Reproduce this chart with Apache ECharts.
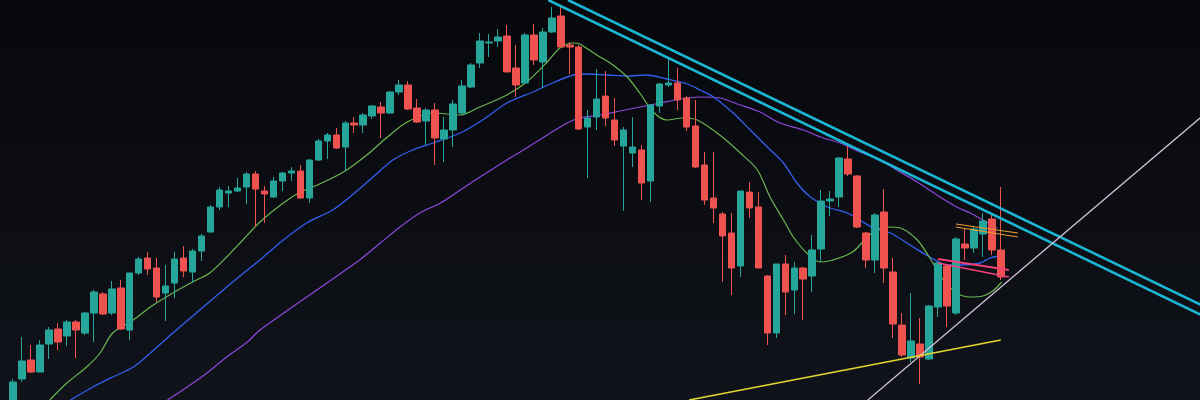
<!DOCTYPE html>
<html>
<head>
<meta charset="utf-8">
<script src="https://cdn.jsdelivr.net/npm/echarts@6/dist/echarts.min.js"></script>
<style>
html,body{margin:0;padding:0;background:#0b0d12;overflow:hidden;}
#c{width:1212px;height:400px;}
</style>
</head>
<body>
<div id="c"></div>
<script>
// ---- candle data (price units), one entry per session ----
const opens  = [-5,21,40,28,56,71,64,78,67,87,106,87,112,70,127,142,132,107,117,142,128,149,168,193,207,209,213,226,209,203,219,227,229,202,240,259,265,253,277,275,284,293,287,308,315,292,279,290,261,270,287,313,337,357,359,364,332,317,365,338,368,384,355,353,273,283,304,280,254,247,250,219,294,315,317,302,274,235,202,186,167,134,208,193,124,67,136,110,132,124,151,199,203,241,224,167,140,188,128,75,42,56,41,93,134,87,156,152,166,181,150];
const closes = [18,39,28,55,70,58,78,70,87,108,86,111,71,127,141,131,103,114,141,129,149,164,193,210,209,212,226,211,206,219,227,229,202,240,259,265,252,277,275,285,294,287,308,315,291,278,290,262,270,296,314,335,359,358,363,328,315,365,340,368,382,353,353,271,282,301,282,260,270,253,217,295,316,317,300,273,233,200,192,164,132,209,192,132,67,136,108,132,121,150,199,201,242,226,173,140,185,132,76,45,59,43,94,137,94,161,152,171,179,150,123];
const lows   = [-10,18,27,28,41,50,54,42,65,58,85,85,70,60,125,125,98,79,102,123,117,139,167,190,193,208,196,173,177,202,209,219,201,197,239,241,251,229,267,267,281,262,286,305,290,277,255,235,238,253,285,312,332,343,353,328,303,316,335,312,367,353,326,270,222,270,274,254,189,233,200,198,287,313,290,269,232,195,177,118,105,123,182,132,55,62,85,86,80,108,138,184,193,224,172,132,127,117,62,43,38,16,40,83,73,85,140,147,143,145,120];
const highs  = [21,63,55,60,73,77,80,80,88,110,108,119,120,127,143,148,142,135,148,154,151,166,195,213,214,222,228,229,214,223,228,233,235,241,261,267,272,279,283,287,295,298,309,320,319,301,292,297,283,300,320,337,367,366,371,375,355,367,376,372,393,393,358,355,290,331,329,302,273,283,255,296,317,342,332,304,300,248,248,188,187,209,218,208,125,136,145,138,133,165,210,209,243,255,225,168,187,211,142,87,107,82,95,138,136,163,172,173,187,185,213];

// ---- moving averages: [session index, price] ----
const maFast = [[4.1,0],[6.0,17],[8.2,33],[9.7,47],[11.1,67],[13.4,80],[15.3,93],[17.8,107],[20.0,118],[21.9,127],[23.8,143],[25.6,160],[27.5,178],[30.1,197],[32.0,208],[33.9,215],[36.8,228],[39.4,245],[41.7,263],[43.9,278],[46.8,287],[49.8,285],[52.0,293],[55.0,305],[57.2,318],[59.5,338],[60.9,352],[62.4,357],[63.1,356],[65.0,345],[66.5,337],[68.4,323],[69.8,307],[71.3,288],[72.8,280],[74.6,282],[76.2,280],[78.7,265],[81.0,247],[82.9,230],[84.3,203],[85.8,180],[86.9,163],[88.4,147],[89.9,138],[91.3,140],[93.5,148],[95.4,165],[97.3,173],[98.8,172],[100.7,160],[102.1,142],[103.6,120],[105.1,107],[106.6,103],[108.0,104],[109.1,109],[110.1,118]];
const maMid = [[6.4,0],[8.9,13],[11.1,23],[13.4,33],[15.3,47],[17.8,67],[20.8,90],[23.8,113],[26.1,130],[27.5,140],[30.1,160],[32.7,177],[35.6,190],[37.5,203],[40.1,223],[42.3,240],[44.5,250],[46.8,257],[49.8,267],[52.3,280],[55.0,297],[57.9,308],[60.1,317],[62.4,325],[63.9,326],[66.2,325],[68.4,324],[70.6,325],[72.8,321],[75.1,316],[76.5,310],[78.0,303],[80.2,287],[82.1,270],[84.0,253],[85.8,237],[87.3,217],[88.8,203],[90.7,193],[92.9,187],[94.3,180],[95.8,172],[97.7,167],[99.9,155],[102.1,143],[104.0,135],[105.8,135],[107.7,137],[108.8,142],[109.9,144]];
const maSlow = [[17.2,0],[19.4,13],[21.6,27],[23.8,43],[26.1,58],[27.5,70],[38.6,140],[40.9,157],[43.1,173],[45.3,187],[47.6,197],[49.8,210],[52.0,223],[55.0,240],[57.2,252],[59.5,265],[61.7,277],[63.1,282],[65.4,285],[67.6,289],[69.8,293],[72.1,297],[74.3,301],[76.5,303],[78.7,302],[81.0,295],[83.2,288],[85.4,277],[88.0,270],[89.9,263],[92.1,257],[94.3,248],[96.6,240],[98.4,230],[100.7,218],[102.9,205],[105.1,193],[106.6,187],[108.0,180],[109.6,172]];

// ---- drawn trend lines: [session index, price] endpoints ----
const resistUpper = [[61.8,400],[133.5,90]];
const resistLower = [[59.6,400],[133.5,80]];
const riseLine    = [[95.2,0],[133.5,292]];
const supportLine = [[75.3,0],[110.0,60]];
const orangeA     = [[105.0,176],[111.9,167]];
const orangeB     = [[105.0,173],[111.9,163]];
const pinkA       = [[103.0,141],[110.9,130]];
const pinkB       = [[103.0,137],[110.9,123]];

const slots = 134;
const categories = Array.from({length: slots}, (_, i) => 'D' + (i + 1));
const candles = opens.map((o, i) => [o, closes[i], lows[i], highs[i]]);

const UP = '#26a69a', DOWN = '#ef5350';
function line(data, color, width, extra) {
  return Object.assign({
    type: 'line', xAxisIndex: 1, yAxisIndex: 0, data: data, symbol: 'none',
    lineStyle: {color: color, width: width}, silent: true, animation: false, z: 3
  }, extra || {});
}

const chart = echarts.init(document.getElementById('c'), null, {renderer: 'canvas'});
chart.setOption({
  animation: false,
  backgroundColor: {type: 'linear', x: 0, y: 0, x2: 0, y2: 1,
    colorStops: [{offset: 0, color: '#07080c'}, {offset: 1, color: '#10131a'}]},
  grid: {left: 8.5, top: 0, width: slots * 8.98, height: 400},
  xAxis: [
    {type: 'category', data: categories, boundaryGap: true, show: false},
    {type: 'value', min: -0.5, max: slots - 0.5, show: false}
  ],
  yAxis: {type: 'value', min: 0, max: 400, show: false, splitLine: {show: false}},
  series: [
    line(maSlow, '#8c48dc', 1.2, {smooth: 0.3, z: 2}),
    line(maMid, '#3160ee', 1.3, {smooth: 0.3, z: 2}),
    line(maFast, '#6cb650', 1.2, {smooth: 0.3, z: 2}),
    {
      type: 'candlestick', data: candles, barWidth: 7, z: 4,
      itemStyle: {color: UP, color0: DOWN, borderColor: UP, borderColor0: DOWN, borderWidth: 1}
    },
    line(resistUpper, '#1bb6d3', 2.6, {z: 5}),
    line(resistLower, '#1bb6d3', 2.6, {z: 5}),
    line(riseLine, '#d6c8dc', 1.2, {z: 5}),
    line(supportLine, '#e3d531', 1.6, {z: 5}),
    line(orangeA, '#f0a030', 1, {z: 5}),
    line(orangeB, '#f0a030', 1, {z: 5}),
    line(pinkA, '#f23f78', 2.2, {z: 5}),
    line(pinkB, '#f23f78', 1.6, {z: 5})
  ]
});
</script>
</body>
</html>
